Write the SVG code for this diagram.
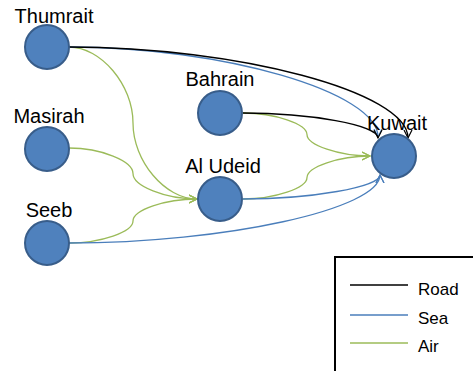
<svg xmlns="http://www.w3.org/2000/svg" width="473" height="371" viewBox="0 0 473 371">
  <style>
    .node circle { fill: #4f81bd; stroke: #385d8a; stroke-width: 2; }
    .label { font-family: "Liberation Sans", Arial, sans-serif; font-size: 20px; fill: #000; text-anchor: middle; }
    .legend-text { font-family: "Liberation Sans", Arial, sans-serif; font-size: 17px; fill: #000; }
    .road { fill: none; stroke: #000000; stroke-width: 1.3; marker-end: url(#arrow-road); }
    .sea { fill: none; stroke: #4a7ebb; stroke-width: 1.3; marker-end: url(#arrow-sea); }
    .air { fill: none; stroke: #9bbb59; stroke-width: 1.3; marker-end: url(#arrow-air); }
  </style>
  <defs>
    <marker id="arrow-road" markerUnits="userSpaceOnUse" markerWidth="10" markerHeight="10" refX="8" refY="4" orient="auto" viewBox="0 0 10 8">
      <path d="M0,0 L8,4 L0,8" fill="none" stroke="#000000" stroke-width="1.2"/>
    </marker>
    <marker id="arrow-sea" markerUnits="userSpaceOnUse" markerWidth="10" markerHeight="10" refX="8" refY="4" orient="auto" viewBox="0 0 10 8">
      <path d="M0,0 L8,4 L0,8" fill="none" stroke="#4a7ebb" stroke-width="1.2"/>
    </marker>
    <marker id="arrow-air" markerUnits="userSpaceOnUse" markerWidth="10" markerHeight="10" refX="8" refY="4" orient="auto" viewBox="0 0 10 8">
      <path d="M0,0 L8,4 L0,8" fill="none" stroke="#9bbb59" stroke-width="1.2"/>
    </marker>
  </defs>

  <rect width="473" height="371" fill="#ffffff"/>

  <!-- routes -->
  <g id="connectors">
    <!-- air -->
    <path class="air" d="M69,47 C101,47 133,85 133,123 C133,161 165,199 197,199"/>
    <path class="air" d="M69,148 C101,148 133,161 133,173.5 C133,186 165,199 197,199"/>
    <path class="air" d="M69,243 C101,243 133,232 133,221 C133,210 165,199 197,199"/>
    <path class="air" d="M243,113 C275,113 307,124 307,134.5 C307,145 339,156 370,156"/>
    <path class="air" d="M243,199 C275,199 307,188 307,177.5 C307,167 339,156 370,156"/>
    <!-- sea -->
    <path class="sea" d="M69,47 C223,47 378,92 378,137"/>
    <path class="sea" d="M69,243 C225,243 380,209 380,175"/>
    <path class="sea" d="M243,199 C311,199 380,187 380,175"/>
    <!-- road -->
    <path class="road" d="M69,47 C238,47 408,92 408,138"/>
    <path class="road" d="M243,113 C310,113 378,125 378,138"/>
  </g>

  <g id="thumrait" class="node">
    <circle cx="47" cy="47" r="22"/>
    <text class="label" x="54" y="23">Thumrait</text>
  </g>
  <g id="masirah" class="node">
    <circle cx="47" cy="149" r="22"/>
    <text class="label" x="49" y="123">Masirah</text>
  </g>
  <g id="seeb" class="node">
    <circle cx="47" cy="243" r="22"/>
    <text class="label" x="49" y="217">Seeb</text>
  </g>
  <g id="bahrain" class="node">
    <circle cx="220" cy="113" r="22"/>
    <text class="label" x="220" y="86">Bahrain</text>
  </g>
  <g id="al-udeid" class="node">
    <circle cx="220" cy="199" r="22"/>
    <text class="label" x="223" y="173">Al Udeid</text>
  </g>
  <g id="kuwait" class="node">
    <circle cx="394" cy="156" r="22"/>
    <text class="label" x="397" y="130">Kuwait</text>
  </g>

  <!-- legend -->
  <g id="legend">
    <rect x="335" y="257" width="150" height="130" fill="#ffffff" stroke="#000000" stroke-width="2"/>
    <line x1="350" y1="285" x2="408" y2="285" stroke="#000000" stroke-width="1.3"/>
    <line x1="350" y1="315" x2="408" y2="315" stroke="#4a7ebb" stroke-width="1.3"/>
    <line x1="350" y1="343" x2="408" y2="343" stroke="#9bbb59" stroke-width="1.3"/>
    <text class="legend-text" x="418" y="295">Road</text>
    <text class="legend-text" x="418" y="324">Sea</text>
    <text class="legend-text" x="418" y="352">Air</text>
  </g>
</svg>
